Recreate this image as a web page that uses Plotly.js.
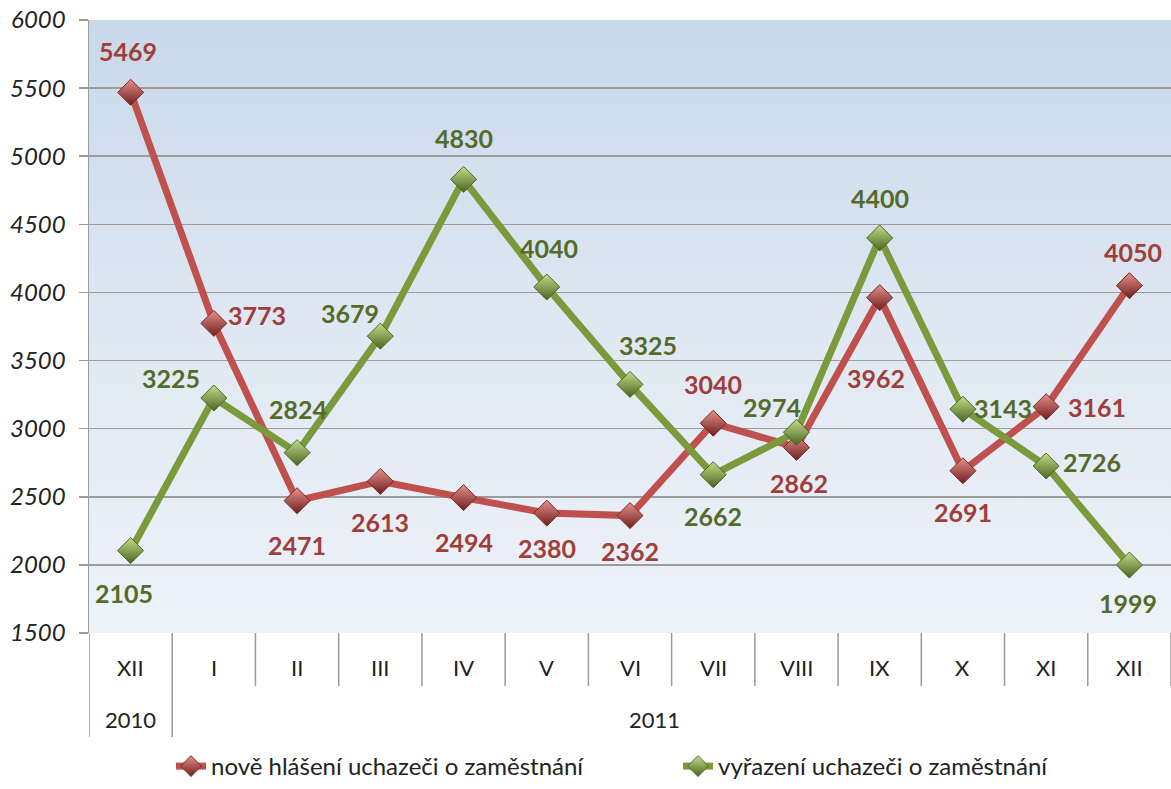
<!DOCTYPE html>
<html>
<head>
<meta charset="utf-8">
<script src="https://cdn.plot.ly/plotly-3.0.1.min.js"></script>
<style>
  html, body { margin: 0; padding: 0; background: #ffffff; }
  #chart { width: 1171px; height: 789px; }
</style>
</head>
<body>
<div id="chart"></div>
<script>
// ---- data ----
const months = ["XII", "I", "II", "III", "IV", "V", "VI", "VII", "VIII", "IX", "X", "XI", "XII"];
const years = ["2010", "2011"];
const yearSpan = [1, 12];           // number of months in each year group
const newlyRegistered = [5469, 3773, 2471, 2613, 2494, 2380, 2362, 3040, 2862, 3962, 2691, 3161, 4050];
const removed = [2105, 3225, 2824, 3679, 4830, 4040, 3325, 2662, 2974, 4400, 3143, 2726, 1999];
const seriesNames = ["nově hlášení uchazeči o zaměstnání", "vyřazení uchazeči o zaměstnání"];

// ---- label offsets (pixels, style only) ----
const redDx = [-3, 43, 0, 0, 0, 0, 0, 0, 3, -4, 0, 51, 4];
const redDy = [-41, -8, 44, 41, 44, 35, 35, -39, 36, 80, 41, 0, -34];
const greenDx = [-7, -43, 1, -30, 0, 2, 18, 0, -24, 0, 40, 46, -1];
const greenDy = [42, -20, -44, -23, -41, -39, -39, 41, -25, -40, -1, -4, 38];

const xIdx = months.map((m, i) => i);
const FONT = "Lato, 'Open Sans', sans-serif";
const RED = "#c0504d", RED_TXT = "#a13d3a";
const GREEN = "#7a9a3c", GREEN_TXT = "#556b2a";

const traces = [
  {
    x: xIdx, y: newlyRegistered, name: seriesNames[0], type: "scatter", mode: "lines+markers",
    line: { color: RED, width: 7 },
    marker: { symbol: "diamond", size: 20, color: "#e8908c",
              gradient: { type: "vertical", color: "#6e1f1d" },
              line: { color: "#7a2826", width: 1 } },
    hoverinfo: "y"
  },
  {
    x: xIdx, y: removed, name: seriesNames[1], type: "scatter", mode: "lines+markers",
    line: { color: GREEN, width: 7 },
    marker: { symbol: "diamond", size: 20, color: "#c4de8a",
              gradient: { type: "vertical", color: "#4a6420" },
              line: { color: "#4e6622", width: 1 } },
    hoverinfo: "y"
  }
];

const annotations = [];
newlyRegistered.forEach((v, i) => annotations.push({
  x: i, y: v, xref: "x", yref: "y", text: String(v), showarrow: false,
  xshift: redDx[i], yshift: -redDy[i], xanchor: "center", yanchor: "middle",
  font: { family: FONT, size: 25, color: RED_TXT, weight: "bold" }
}));
removed.forEach((v, i) => annotations.push({
  x: i, y: v, xref: "x", yref: "y", text: String(v), showarrow: false,
  xshift: greenDx[i], yshift: -greenDy[i], xanchor: "center", yanchor: "middle",
  font: { family: FONT, size: 25, color: GREEN_TXT, weight: "bold" }
}));
// month labels
months.forEach((m, i) => annotations.push({
  x: i, y: 0, xref: "x", yref: "paper", text: m, showarrow: false,
  yshift: -34, xanchor: "center", yanchor: "middle",
  font: { family: FONT, size: 22, color: "#222222" }
}));
// year labels
let start = 0;
years.forEach((yv, k) => {
  const end = start + yearSpan[k] - 1;
  annotations.push({
    x: (start + end) / 2 - (k === 1 ? 0.2 : 0), y: 0, xref: "x", yref: "paper", text: yv, showarrow: false,
    yshift: -86, xanchor: "center", yanchor: "middle",
    font: { family: FONT, size: 22, color: "#222222" }
  });
  start = end + 1;
});

// separators
const plotH = 789 - 20 - 156;
const shortDrop = -53 / plotH, longDrop = -104 / plotH;
const shapes = [];
for (let i = 0; i <= months.length; i++) {
  const isYearBoundary = (i === 0 || i === yearSpan[0]);
  shapes.push({
    type: "line", xref: "x", yref: "paper", x0: i - 0.5, x1: i - 0.5,
    y0: 0, y1: isYearBoundary ? longDrop : shortDrop,
    line: { color: "#9a9a9a", width: 1.5 }
  });
}

const svg = "<svg xmlns='http://www.w3.org/2000/svg' width='100' height='100' preserveAspectRatio='none'>" +
  "<defs><linearGradient id='g' x1='0' y1='0' x2='0' y2='1'>" +
  "<stop offset='0' stop-color='#c9d8ea'/><stop offset='0.55' stop-color='#e1e9f3'/><stop offset='1' stop-color='#eef2f9'/>" +
  "</linearGradient></defs><rect width='100' height='100' fill='url(#g)'/></svg>";

const layout = {
  width: 1171, height: 789,
  margin: { l: 89, r: 0, t: 20, b: 156, autoexpand: false },
  paper_bgcolor: "#ffffff",
  plot_bgcolor: "rgba(0,0,0,0)",
  showlegend: true,
  legend: {
    orientation: "h", xref: "container", x: 0.579, xanchor: "center",
    yref: "container", y: -0.019, yanchor: "bottom",
    font: { family: FONT, size: 24, color: "#222222" },
    entrywidth: 462, bgcolor: "rgba(0,0,0,0)"
  },
  xaxis: {
    range: [-0.5, months.length - 0.5], showticklabels: false, showgrid: false,
    zeroline: false, showline: false, ticks: "", fixedrange: true
  },
  yaxis: {
    range: [1500, 6000], dtick: 500, tick0: 1500,
    showgrid: true, gridcolor: "#9c9c9c", gridwidth: 1.5,
    zeroline: false, showline: true, linecolor: "#9c9c9c", linewidth: 1.5,
    ticks: "outside", ticklen: 9, tickcolor: "#9c9c9c", tickwidth: 1.5,
    ticklabelstandoff: 8,
    tickfont: { family: FONT, size: 24, color: "#222222", style: "italic" },
    fixedrange: true
  },
  images: [{
    source: "data:image/svg+xml;utf8," + encodeURIComponent(svg),
    xref: "paper", yref: "paper", x: 0, y: 1, sizex: 1, sizey: 1,
    xanchor: "left", yanchor: "top", sizing: "stretch", layer: "below"
  }],
  annotations: annotations,
  shapes: shapes
};

Plotly.newPlot("chart", traces, layout, { displayModeBar: false, staticPlot: true });
</script>
</body>
</html>
